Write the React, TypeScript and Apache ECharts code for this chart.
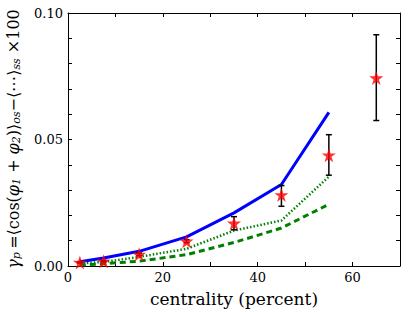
import React, { useEffect, useRef } from "react";
import * as echarts from "echarts";

const centralityTheory = [2.5, 7.5, 15, 25, 35, 45, 55];
const blueSolid = [0.0017, 0.0032, 0.0058, 0.0115, 0.021, 0.0322, 0.0607];
const greenDotted = [0.001, 0.0016, 0.0036, 0.0068, 0.014, 0.018, 0.0353];
const greenDashed = [0.0004, 0.0009, 0.0019, 0.0045, 0.0093, 0.015, 0.0244];

const centralityData = [2.5, 7.5, 15, 25, 35, 45, 55, 65];
const dataValues = [0.0014, 0.0019, 0.0046, 0.0098, 0.0169, 0.0281, 0.0438, 0.0743];
const errLow = [0.0012, 0.0016, 0.0041, 0.0092, 0.0143, 0.0236, 0.0359, 0.0575];
const errHigh = [0.0016, 0.0022, 0.0051, 0.0104, 0.0195, 0.0318, 0.0519, 0.0914];

const xTicksLabelled = [0, 20, 40, 60];
const yTicksLabelled = [0, 0.05, 0.1];

const STAR =
  "path://M50,0 L61.8,36.2 L100,36.2 L69.1,58.8 L80.9,95.1 L50,72.7 L19.1,95.1 L30.9,58.8 L0,36.2 L38.2,36.2 Z";

const FONT = "DejaVu Serif";

export default function App() {
  const ref = useRef<HTMLDivElement>(null);
  useEffect(() => {
    if (!ref.current) return;
    const chart = echarts.init(ref.current, undefined, { renderer: "svg" });
    const zip = (xs: number[], ys: number[]) => xs.map((x, i) => [x, ys[i]]);
    const axisCommon = {
      min: 0,
      axisLine: { show: true, onZero: false, lineStyle: { color: "#000", width: 1 } },
      axisTick: { show: true, inside: true, length: 4, lineStyle: { color: "#000" } },
      splitLine: { show: false },
    };
    chart.setOption({
      animation: false,
      grid: { left: 68, right: 15, top: 13, bottom: 41 },
      xAxis: [
        {
          ...axisCommon,
          type: "value",
          max: 70,
          interval: 10,
          position: "bottom",
          axisLabel: {
            color: "#000",
            fontFamily: FONT,
            fontSize: 13,
            margin: 5,
            formatter: (v: number) => (xTicksLabelled.includes(v) ? String(v) : ""),
          },
          name: "centrality (percent)",
          nameLocation: "middle",
          nameGap: 24,
          nameTextStyle: { color: "#000", fontFamily: FONT, fontSize: 17 },
        },
        {
          ...axisCommon,
          type: "value",
          max: 70,
          interval: 10,
          position: "top",
          axisLabel: { show: false },
        },
      ],
      yAxis: [
        {
          ...axisCommon,
          type: "value",
          max: 0.1,
          interval: 0.01,
          position: "left",
          axisLabel: {
            color: "#000",
            fontFamily: FONT,
            fontSize: 13,
            margin: 5,
            formatter: (v: number) =>
              yTicksLabelled.some((t) => Math.abs(t - v) < 1e-9) ? v.toFixed(2) : "",
          },
        },
        {
          ...axisCommon,
          type: "value",
          max: 0.1,
          interval: 0.01,
          position: "right",
          axisLabel: { show: false },
        },
      ],
      graphic: [
        {
          type: "text",
          x: 13,
          y: 139,
          rotation: Math.PI / 2,
          style: {
            text:
              "{m|γ}{s|p} {n|=⟨cos(}{m|φ}{s|1}{n| + }{m|φ}{s|2}{n|)⟩}{s|os}{n|−⟨⋯⟩}{s|ss}{n| ×100}",
            align: "center",
            verticalAlign: "middle",
            rich: {
              m: { fontFamily: FONT, fontStyle: "italic", fontSize: 16, fill: "#000", verticalAlign: "middle" },
              n: { fontFamily: FONT, fontSize: 16, fill: "#000", verticalAlign: "middle" },
              s: {
                fontFamily: FONT,
                fontStyle: "italic",
                fontSize: 11,
                fill: "#000",
                verticalAlign: "bottom",
                padding: [6, 0, 0, 0],
              },
            },
          },
        },
      ],
      series: [
        {
          type: "line",
          data: zip(centralityTheory, greenDashed),
          showSymbol: false,
          lineStyle: { color: "#008000", width: 3, type: [6, 4] },
          z: 2,
        },
        {
          type: "line",
          data: zip(centralityTheory, greenDotted),
          showSymbol: false,
          lineStyle: { color: "#008000", width: 2.5, type: [1.5, 2] },
          z: 2,
        },
        {
          type: "line",
          data: zip(centralityTheory, blueSolid),
          showSymbol: false,
          lineStyle: { color: "#0000ff", width: 3 },
          z: 3,
        },
        {
          type: "custom",
          data: centralityData.map((x, i) => [x, errLow[i], errHigh[i]]),
          renderItem: (params: any, api: any) => {
            const lo = api.coord([api.value(0), api.value(1)]);
            const hi = api.coord([api.value(0), api.value(2)]);
            const w = 3;
            const st = { stroke: "#000", lineWidth: 1.5 };
            return {
              type: "group",
              children: [
                { type: "line", shape: { x1: lo[0], y1: lo[1], x2: hi[0], y2: hi[1] }, style: st },
                { type: "line", shape: { x1: lo[0] - w, y1: lo[1], x2: lo[0] + w, y2: lo[1] }, style: st },
                { type: "line", shape: { x1: hi[0] - w, y1: hi[1], x2: hi[0] + w, y2: hi[1] }, style: st },
              ],
            };
          },
          z: 4,
        },
        {
          type: "scatter",
          data: zip(centralityData, dataValues),
          symbol: STAR,
          symbolSize: 14,
          itemStyle: { color: "#ff0000" },
          z: 5,
        },
      ],
    });
    return () => chart.dispose();
  }, []);
  return (
    <div
      ref={ref}
      style={{ position: "absolute", left: 0, top: 0, width: 415, height: 312, background: "#fff" }}
    />
  );
}
